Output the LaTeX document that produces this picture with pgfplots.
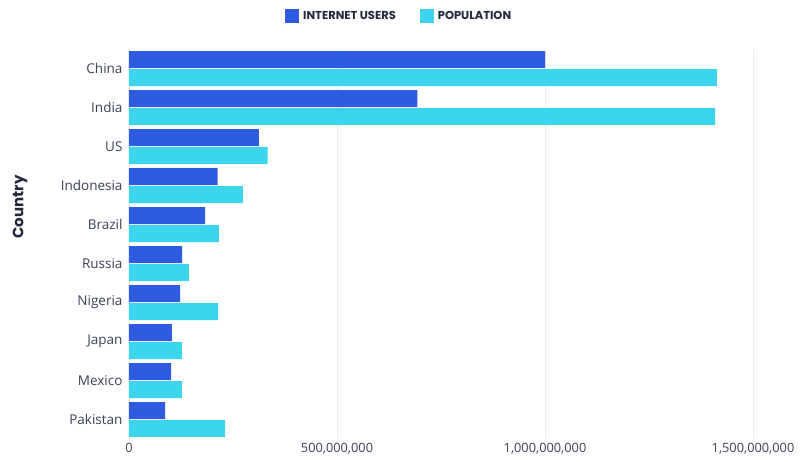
\documentclass[border=0pt]{standalone}
\usepackage{pgfplots}
\pgfplotsset{compat=1.18}
\usepackage{fontspec}
\setmainfont{Open Sans}
\newfontfamily\popp{Poppins}
\definecolor{users}{HTML}{2F5BE0}
\definecolor{pop}{HTML}{3DD5EE}
\definecolor{txt}{HTML}{3C4155}
\definecolor{dark}{HTML}{22283A}
\definecolor{gridc}{HTML}{ECEDF0}
\begin{document}
\begin{tikzpicture}
\useasboundingbox (-129pt,-22pt) rectangle (671pt,439pt);
\begin{axis}[
  at={(0,0)}, anchor=south west,
  scale only axis,
  width=624pt, height=390pt,
  xbar, bar width=17pt,
  xmin=0, xmax=1.5e9,
  ymin=-0.5, ymax=9.5,
  y dir=reverse,
  ytick={0,...,9},
  yticklabels={China,India,US,Indonesia,Brazil,Russia,Nigeria,Japan,Mexico,Pakistan},
  xtick={0,500000000,1000000000,1500000000},
  xticklabels={0,{500,000,000},{1,000,000,000},{1,500,000,000}},
  axis line style={draw=none},
  major tick length=0pt,
  xmajorgrids=true, ymajorgrids=false,
  grid style={draw=gridc, line width=0.8pt},
  yticklabel style={font=\fontsize{13.5}{15}\selectfont, text=txt, xshift=-3pt},
  xticklabel style={font=\fontsize{12.8}{14}\selectfont, text=txt, yshift=-1pt},
  ylabel={\popp\bfseries\fontsize{15}{17}\selectfont Country},
  ylabel style={text=dark, at={(axis description cs:0,0.5)}, anchor=center, xshift=37pt, yshift=109pt},
  legend style={at={(0.433,1)}, anchor=south, yshift=24pt, draw=none, fill=none,
    font=\popp\bfseries\fontsize{11.5}{13}\selectfont, text=dark,
    legend columns=2, /tikz/every even column/.append style={column sep=22pt},
    /tikz/every odd column/.append style={column sep=2pt}},
  legend image code/.code={\fill[#1] (0pt,-7pt) rectangle (14pt,7pt);},
]
\addplot[fill=users, draw=none, bar shift=9pt] coordinates {
(1000000000,0) (693000000,1) (312000000,2) (213000000,3) (183000000,4)
(128000000,5) (123000000,6) (103000000,7) (101000000,8) (87000000,9)};
\addplot[fill=pop, draw=none, bar shift=-9pt] coordinates {
(1413000000,0) (1409000000,1) (333000000,2) (274000000,3) (216000000,4)
(144000000,5) (214000000,6) (127000000,7) (127000000,8) (231000000,9)};
\legend{INTERNET USERS, POPULATION}
\end{axis}
\end{tikzpicture}
\end{document}
